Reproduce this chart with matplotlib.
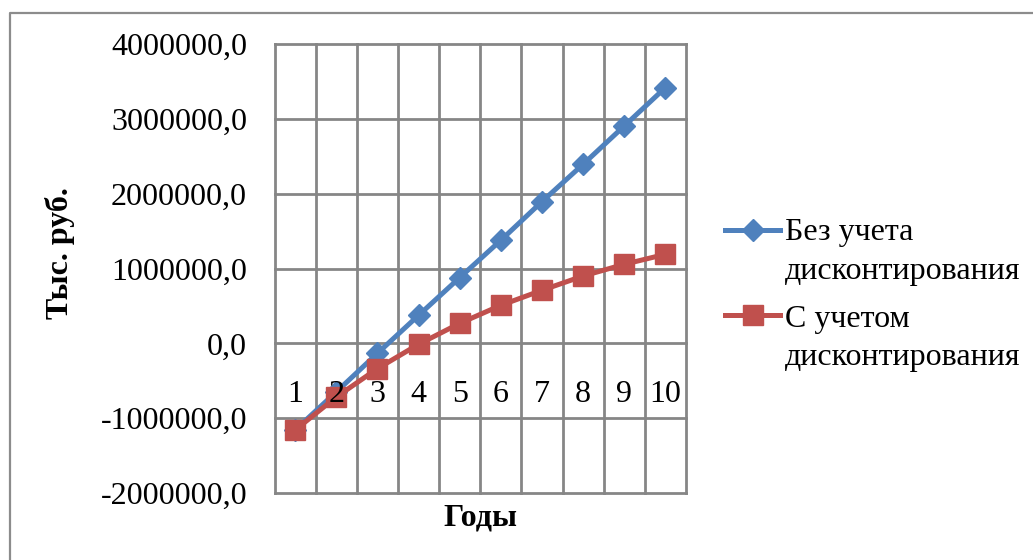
import matplotlib
matplotlib.use("Agg")
import matplotlib.pyplot as plt
from matplotlib.lines import Line2D
from matplotlib.transforms import offset_copy

years = ["1", "2", "3", "4", "5", "6", "7", "8", "9", "10"]
no_discount = [-1159000, -650000, -134000, 374000, 878000, 1377000, 1894000, 2393000, 2905000, 3418000]
with_discount = [-1159000, -718000, -338000, -13000, 267000, 508000, 709000, 900000, 1056000, 1190000]
series_names = ["Без учета\nдисконтирования", "С учетом\nдисконтирования"]
y_ticks = [-2000000, -1000000, 0, 1000000, 2000000, 3000000, 4000000]
y_label = "Тыс. руб."
x_label = "Годы"

BLUE = "#4F81BD"
RED = "#C0504D"
GRID = "#868686"
FONT = "Liberation Serif"
FS = 23

fig = plt.figure(figsize=(10.33, 5.6), dpi=100)
W, H = 1033, 560
def fx(px): return px / W
def fy(py): return 1 - py / H

ax = fig.add_axes([fx(274.5), fy(493), fx(686) - fx(274.5), fy(44) - fy(493)])
x = list(range(1, len(years) + 1))

ax.set_xlim(0.5, len(years) + 0.5)
ax.set_ylim(y_ticks[0], y_ticks[-1])
ax.set_xticks([i + 0.5 for i in range(0, len(years) + 1)])
ax.set_xticklabels([])
ax.set_yticks(y_ticks)
ax.set_yticklabels([f"{v:.1f}".replace(".", ",") for v in y_ticks], fontfamily=FONT, fontsize=FS)
ax.tick_params(axis="both", length=0)
ax.tick_params(axis="y", pad=19.8)
for s in ax.spines.values():
    s.set_visible(False)
ax.grid(True, color=GRID, linewidth=2)
for gl in ax.get_xgridlines() + ax.get_ygridlines():
    gl.set_clip_on(False)
ax.set_axisbelow(True)

ax.plot(x, no_discount, color=BLUE, linewidth=3.6, marker="D", markersize=11,
        markerfacecolor=BLUE, markeredgecolor=BLUE, zorder=3)
ax.plot(x, with_discount, color=RED, linewidth=3.6, marker="s", markersize=14,
        markerfacecolor=RED, markeredgecolor=RED, zorder=4)

tr = offset_copy(ax.transData, fig=fig, x=0, y=-51, units="dots")
for xi, lab in zip(x, years):
    ax.text(xi, 0, lab, transform=tr, ha="center", va="center",
            fontfamily=FONT, fontsize=FS, zorder=6)

fig.text(fx(60), fy(253), y_label, rotation=90, ha="center", va="center",
         fontfamily=FONT, fontsize=FS, fontweight="bold")
fig.text(fx(480), fy(518), x_label, ha="center", va="center",
         fontfamily=FONT, fontsize=FS, fontweight="bold")

# legend
entries = [(BLUE, "D", 11, 229.5, 240, 279), (RED, "s", 14, 315, 326.5, 365)]
for (col, mk, ms, hy, b1, b2), name in zip(entries, series_names):
    fig.add_artist(Line2D([fx(725), fx(780)], [fy(hy), fy(hy)], color=col, linewidth=3.6,
                          transform=fig.transFigure))
    fig.add_artist(Line2D([fx(752.5)], [fy(hy)], marker=mk, markersize=ms, color=col,
                          markerfacecolor=col, markeredgecolor=col, transform=fig.transFigure))
    l1, l2 = name.split("\n")
    fig.text(fx(785), fy(b1), l1, ha="left", va="baseline", fontfamily=FONT, fontsize=FS)
    fig.text(fx(785), fy(b2), l2, ha="left", va="baseline", fontfamily=FONT, fontsize=FS)

# chart area border (left and top visible)
fig.add_artist(Line2D([fx(10), fx(10), fx(1040)], [fy(570), fy(12.5), fy(12.5)],
                      color="#8C8C8C", linewidth=1.6, transform=fig.transFigure))

fig.savefig("out.png", dpi=100, facecolor="white")
